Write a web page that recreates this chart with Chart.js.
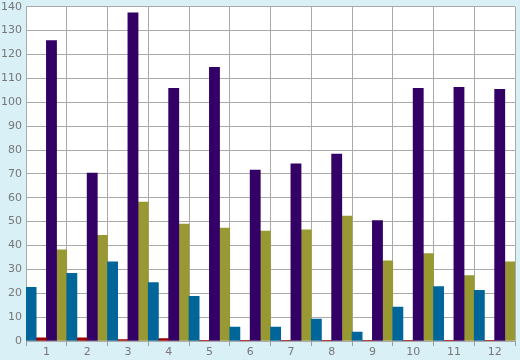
<!DOCTYPE html>
<html><head><meta charset="utf-8">
<script src="https://cdn.jsdelivr.net/npm/chart.js@4/dist/chart.umd.min.js"></script>
<style>html,body{margin:0;padding:0;background:#daf0f7;}#wrap{width:520px;height:360px;}</style>
</head><body><div id="wrap"><canvas id="c" width="520" height="360"></canvas></div>
<script>
const categories = ['1','2','3','4','5','6','7','8','9','10','11','12'];
const seriesBlue   = [22.5, 28.3, 33.2, 24.5, 18.7, 5.8, 5.8, 9.2, 3.7, 14.2, 22.8, 21.2];
const seriesRed    = [1.3, 1.3, 0.6, 1.0, 0.3, 0.3, 0.3, 0.3, 0.3, 0.3, 0.3, 0.3];
const seriesPurple = [125.8, 70.3, 137.5, 105.8, 114.6, 71.6, 74.2, 78.3, 50.4, 105.8, 106.2, 105.4];
const seriesOlive  = [38.2, 44.3, 58.2, 49.0, 47.3, 46.0, 46.6, 52.3, 33.6, 36.6, 27.4, 33.2];
const yMin = 0, yMax = 140, yStep = 10;

const plotBg = {
  id: 'plotBg',
  beforeDraw(chart) {
    const {ctx, chartArea: a} = chart;
    ctx.save();
    ctx.fillStyle = '#ffffff';
    ctx.fillRect(a.left, a.top, a.right - a.left, a.bottom - a.top);
    ctx.restore();
  }
};

new Chart(document.getElementById('c'), {
  type: 'bar',
  data: {
    labels: categories,
    datasets: [
      {data: seriesBlue, backgroundColor: '#006699'},
      {data: seriesRed, backgroundColor: '#990000'},
      {data: seriesPurple, backgroundColor: '#330066'},
      {data: seriesOlive, backgroundColor: '#999933'}
    ]
  },
  options: {
    responsive: false,
    animation: false,
    devicePixelRatio: 1,
    layout: {padding: {top: 3, right: 5, left: 0, bottom: 0}},
    plugins: {legend: {display: false}, tooltip: {enabled: false}},
    datasets: {bar: {barPercentage: 1, categoryPercentage: 1, borderWidth: 0}},
    scales: {
      x: {
        grid: {offset: true, color: '#aaaaaa', lineWidth: 1, drawTicks: true, tickLength: 5, tickColor: '#999999'},
        border: {color: '#aaaaaa'},
        ticks: {color: '#777777', font: {family: 'DejaVu Sans', size: 11}, padding: 0, maxRotation: 0},
        afterFit(s) { s.height = 19; }
      },
      y: {
        min: yMin, max: yMax,
        grid: {color: '#aaaaaa', lineWidth: 1, drawTicks: false},
        border: {color: '#aaaaaa'},
        ticks: {stepSize: yStep, color: '#777777', font: {family: 'DejaVu Sans', size: 11, lineHeight: 0.5}, padding: 4},
        afterFit(s) { s.width = 26; }
      }
    }
  },
  plugins: [plotBg]
});
</script>
</body></html>
